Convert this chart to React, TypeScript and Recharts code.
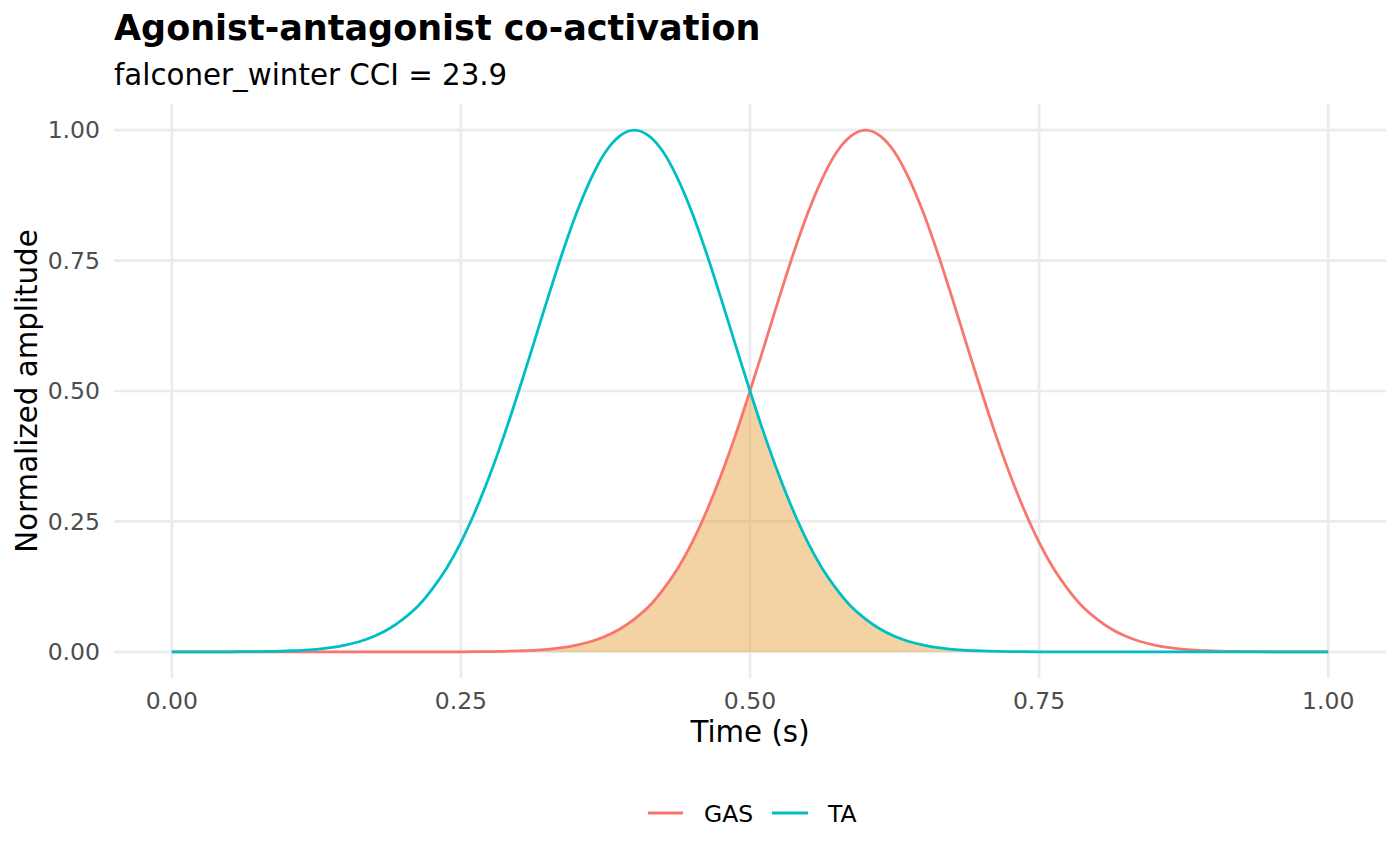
import React from "react";
import {
  ComposedChart,
  Line,
  Area,
  XAxis,
  YAxis,
  CartesianGrid,
} from "recharts";

// sample grid (s)
const time = [
  0, 0.0125, 0.025, 0.0375, 0.05, 0.0625, 0.075, 0.0875,
  0.1, 0.1125, 0.125, 0.1375, 0.15, 0.1625, 0.175, 0.1875,
  0.2, 0.2125, 0.225, 0.2375, 0.25, 0.2625, 0.275, 0.2875,
  0.3, 0.3125, 0.325, 0.3375, 0.35, 0.3625, 0.375, 0.3875,
  0.4, 0.4125, 0.425, 0.4375, 0.45, 0.4625, 0.475, 0.4875,
  0.5, 0.5125, 0.525, 0.5375, 0.55, 0.5625, 0.575, 0.5875,
  0.6, 0.6125, 0.625, 0.6375, 0.65, 0.6625, 0.675, 0.6875,
  0.7, 0.7125, 0.725, 0.7375, 0.75, 0.7625, 0.775, 0.7875,
  0.8, 0.8125, 0.825, 0.8375, 0.85, 0.8625, 0.875, 0.8875,
  0.9, 0.9125, 0.925, 0.9375, 0.95, 0.9625, 0.975, 0.9875,
  1,
];

const taValues = [
  0, 0, 0, 0, 0.0002, 0.0004, 0.0007, 0.0012,
  0.002, 0.003, 0.005, 0.008, 0.013, 0.02, 0.03, 0.044,
  0.063, 0.087, 0.12, 0.16, 0.21, 0.27, 0.339, 0.416,
  0.5, 0.588, 0.677, 0.763, 0.841, 0.907, 0.958, 0.989,
  1.0,
  0.989, 0.958, 0.907, 0.841, 0.763, 0.677, 0.588, 0.5,
  0.416, 0.339, 0.27, 0.21, 0.16, 0.12, 0.087, 0.063,
  0.044, 0.03, 0.02, 0.013, 0.008, 0.005, 0.003, 0.002,
  0.0012, 0.0007, 0.0004, 0.0002, 0, 0, 0, 0,
  0, 0, 0, 0, 0, 0, 0, 0, 0, 0, 0, 0, 0, 0, 0, 0,
];

const gasValues = [
  0, 0, 0, 0, 0, 0, 0, 0, 0, 0, 0, 0, 0, 0, 0, 0, 0, 0, 0, 0,
  0.0002, 0.0004, 0.0007, 0.0012,
  0.002, 0.003, 0.005, 0.008, 0.013, 0.02, 0.03, 0.044,
  0.063, 0.087, 0.12, 0.16, 0.21, 0.27, 0.339, 0.416,
  0.5, 0.588, 0.677, 0.763, 0.841, 0.907, 0.958, 0.989,
  1.0,
  0.989, 0.958, 0.907, 0.841, 0.763, 0.677, 0.588, 0.5,
  0.416, 0.339, 0.27, 0.21, 0.16, 0.12, 0.087, 0.063,
  0.044, 0.03, 0.02, 0.013, 0.008, 0.005, 0.003, 0.002,
  0.0012, 0.0007, 0.0004, 0.0002,
  0, 0, 0, 0,
];

const axisTicks = [0, 0.25, 0.5, 0.75, 1];

const FONT = "'DejaVu Sans', sans-serif";
const GAS_COLOR = "#F8766D";
const TA_COLOR = "#00BFC4";

// shaded region = co-activation (min of the two envelopes)
const rows = time.map((t, i) => ({
  t,
  GAS: gasValues[i],
  TA: taValues[i],
  overlap: Math.min(gasValues[i], taValues[i]),
}));

const tickStyle = { fill: "#4D4D4D", fontSize: 23.5, fontFamily: FONT };

export default function App() {
  return (
    <div
      style={{
        position: "absolute",
        left: 0,
        top: 0,
        width: 1400,
        height: 866,
        background: "#fff",
      }}
    >
      <ComposedChart
        width={1400}
        height={866}
        data={rows}
        margin={{ top: 104, right: 14, bottom: 158, left: 54 }}
      >
        {/* syncWithTicks: only the major breaks, no lines on the panel edges */}
        <CartesianGrid stroke="#EBEBEB" strokeWidth={2.7} syncWithTicks />
        <XAxis
          dataKey="t"
          type="number"
          domain={[-0.05, 1.05]}
          ticks={axisTicks}
          interval={0}
          tickFormatter={(v: number) => v.toFixed(2)}
          axisLine={false}
          tickLine={false}
          tickMargin={8}
          height={30}
          tick={tickStyle}
        />
        <YAxis
          type="number"
          domain={[-0.05, 1.05]}
          ticks={axisTicks}
          interval={0}
          tickFormatter={(v: number) => v.toFixed(2)}
          axisLine={false}
          tickLine={false}
          tickMargin={8}
          width={60}
          tick={tickStyle}
        />
        <Area
          dataKey="overlap"
          type="linear"
          stroke="none"
          fill="#E8A848"
          fillOpacity={0.5}
          baseValue={0}
          dot={false}
          activeDot={false}
          isAnimationActive={false}
        />
        <Line
          dataKey="GAS"
          type="monotone"
          stroke={GAS_COLOR}
          strokeWidth={2.8}
          dot={false}
          activeDot={false}
          isAnimationActive={false}
        />
        <Line
          dataKey="TA"
          type="monotone"
          stroke={TA_COLOR}
          strokeWidth={2.8}
          dot={false}
          activeDot={false}
          isAnimationActive={false}
        />
      </ComposedChart>

      {/* titles, axis titles and legend, ggplot-style */}
      <svg
        width={1400}
        height={866}
        style={{ position: "absolute", left: 0, top: 0, pointerEvents: "none" }}
        fontFamily={FONT}
      >
        <text x={114} y={40} fontSize={35} fontWeight="bold" fill="#000">
          Agonist-antagonist co-activation
        </text>
        <text x={114} y={85} fontSize={29.3} fill="#000">
          falconer_winter CCI = 23.9
        </text>
        <text x={750} y={742} fontSize={29.3} textAnchor="middle" fill="#000">
          Time (s)
        </text>
        <text
          transform="translate(37 391) rotate(-90)"
          fontSize={29.3}
          textAnchor="middle"
          fill="#000"
        >
          Normalized amplitude
        </text>
        <line x1={648} x2={683} y1={813} y2={813} stroke={GAS_COLOR} strokeWidth={2.8} />
        <text x={704} y={822} fontSize={23.5} fill="#000">
          GAS
        </text>
        <line x1={772} x2={808} y1={813} y2={813} stroke={TA_COLOR} strokeWidth={2.8} />
        <text x={828} y={822} fontSize={23.5} fill="#000">
          TA
        </text>
      </svg>
    </div>
  );
}
